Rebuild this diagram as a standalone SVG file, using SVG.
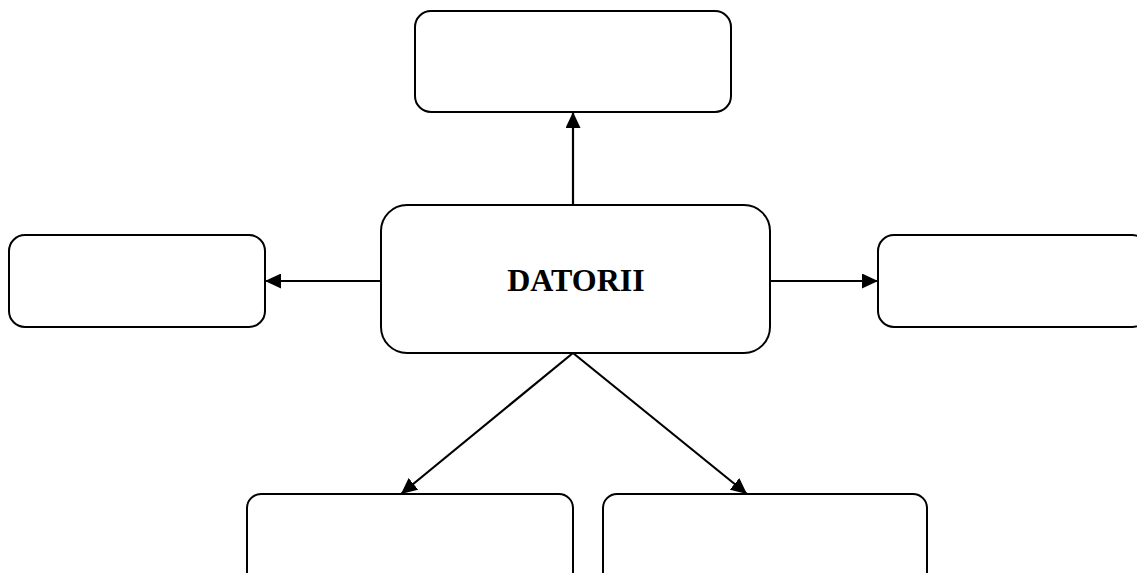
<svg xmlns="http://www.w3.org/2000/svg" width="1137" height="573" viewBox="0 0 1137 573">
  <style>
    .box { fill: #ffffff; stroke: #000000; stroke-width: 2; }
    .link { fill: none; stroke: #000000; stroke-width: 2.2; marker-end: url(#arrow); }
    .label { font-family: "Liberation Serif", "Times New Roman", serif; font-weight: bold; font-size: 32px; fill: #000000; }
  </style>
  <defs>
    <marker id="arrow" viewBox="0 0 16 15" refX="16" refY="7.5" markerWidth="16" markerHeight="15" markerUnits="userSpaceOnUse" orient="auto">
      <path d="M0,0 L16,7.5 L0,15 Z" fill="#000000"/>
    </marker>
  </defs>
  <rect width="1137" height="573" fill="#ffffff"/>

  <g id="connectors">
    <line class="link" x1="573" y1="205" x2="573" y2="112"/>
    <line class="link" x1="381" y1="281" x2="265" y2="281"/>
    <line class="link" x1="770" y1="281" x2="878" y2="281"/>
    <line class="link" x1="573" y1="353" x2="401" y2="494"/>
    <line class="link" x1="573" y1="353" x2="747" y2="494"/>
  </g>

  <g id="node-top">
    <rect class="box" x="415" y="11" width="316" height="101" rx="16" ry="16"/>
  </g>
  <g id="node-center">
    <rect class="box" x="381" y="205" width="389" height="148" rx="26" ry="26"/>
    <text class="label" x="576" y="291" text-anchor="middle">DATORII</text>
  </g>
  <g id="node-left">
    <rect class="box" x="9" y="235" width="256" height="92" rx="16" ry="16"/>
  </g>
  <g id="node-right">
    <rect class="box" x="878" y="235" width="270" height="92" rx="16" ry="16"/>
  </g>
  <g id="node-bottom-left">
    <rect class="box" x="247" y="494" width="326" height="100" rx="14" ry="14"/>
  </g>
  <g id="node-bottom-right">
    <rect class="box" x="603" y="494" width="324" height="100" rx="14" ry="14"/>
  </g>
</svg>
